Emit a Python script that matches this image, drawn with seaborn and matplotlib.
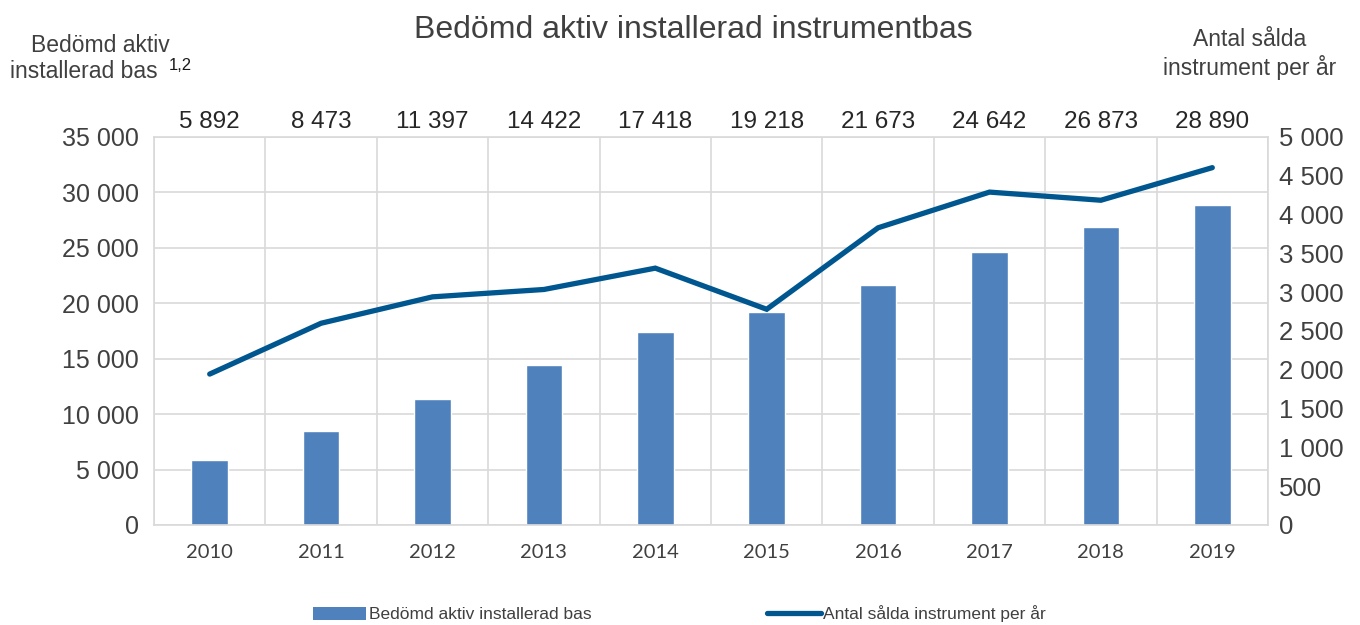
import numpy as np
import pandas as pd
import matplotlib
matplotlib.use("Agg")
import matplotlib.pyplot as plt
import seaborn as sns
from matplotlib.ticker import FuncFormatter, MultipleLocator, FixedLocator
from matplotlib.patches import Patch
from matplotlib.lines import Line2D

years = ["2010", "2011", "2012", "2013", "2014", "2015", "2016", "2017", "2018", "2019"]
installed_base = [5892, 8473, 11397, 14422, 17418, 19218, 21673, 24642, 26873, 28890]
sold_per_year = [1945, 2600, 2940, 3035, 3310, 2780, 3830, 4290, 4185, 4605]
top_labels = ["5 892", "8 473", "11 397", "14 422", "17 418", "19 218", "21 673", "24 642", "26 873", "28 890"]

BAR = "#4F81BD"
LINE = "#00578F"
GRID = "#D9D9D9"
TXT = "#404040"

sns.set_theme(style="white")
plt.rcParams['font.family'] = ['Liberation Sans', 'DejaVu Sans']

fig = plt.figure(figsize=(13.6, 6.25), dpi=100)
ax = fig.add_axes([154/1360, 100/625, (1268-154)/1360, (525-137)/625])

df = pd.DataFrame({"year": years, "base": installed_base, "sold": sold_per_year})
sns.barplot(data=df, x="year", y="base", color=BAR, width=0.33, ax=ax, saturation=1)

ax.set_xlim(-0.5, len(years) - 0.5)
ax.set_ylim(0, 35000)
ax.yaxis.set_major_locator(MultipleLocator(5000))
fmt = FuncFormatter(lambda v, p: f"{int(v):,}".replace(",", " "))
ax.yaxis.set_major_formatter(fmt)
ax.set_xlabel("")
ax.set_ylabel("")
ax.xaxis.set_minor_locator(FixedLocator(np.arange(-0.5, len(years), 1.0)))
ax.grid(True, which="minor", axis="x", color=GRID, lw=1.2)
ax.grid(True, which="major", axis="y", color=GRID, lw=1.2)
ax.set_axisbelow(True)
ax.tick_params(axis="both", which="both", length=0)
ax.tick_params(axis="y", labelsize=18, labelcolor=TXT, pad=11)
for lab in ax.get_xticklabels():
    lab.set_fontfamily(['Lato', 'DejaVu Sans'])
    lab.set_fontsize(14.5)
    lab.set_color(TXT)
ax.tick_params(axis="x", pad=14)
for s in ax.spines.values():
    s.set_color(GRID)
    s.set_linewidth(1.2)

ax2 = ax.twinx()
sns.lineplot(x=np.arange(len(years)), y=df["sold"], color=LINE, lw=3.8, ax=ax2,
             solid_capstyle="round", solid_joinstyle="miter")
ax2.set_ylim(0, 5000)
ax2.yaxis.set_major_locator(MultipleLocator(500))
ax2.yaxis.set_major_formatter(fmt)
ax2.set_ylabel("")
ax2.tick_params(axis="y", length=0, labelsize=18.5, labelcolor=TXT, pad=8)
for s in ax2.spines.values():
    s.set_visible(False)

for i, t in enumerate(top_labels):
    ax.text(i, 1.01, t, transform=ax.get_xaxis_transform(), ha="center", va="bottom",
            fontsize=17.5, color="#262626")

fig.text(693/1360, 1 - 30/625, "Bedömd aktiv installerad instrumentbas", ha="center", va="center",
         fontsize=23, color=TXT)
fig.text(100/1360, 1 - 45/625, "Bedömd aktiv", ha="center", va="center",
         fontsize=16.5, color=TXT)
fig.text(10/1360, 1 - 72/625, "installerad bas", ha="left", va="center",
         fontsize=16.5, color=TXT)
fig.text(169/1360, 1 - 66/625, "1,2", ha="left", va="center",
         fontsize=12, color="#1a1a1a")
fig.text(1250/1360, 1 - 54/625, "Antal sålda\ninstrument per år", ha="center", va="center",
         fontsize=16.5, color=TXT, linespacing=1.2)

handles = [Patch(facecolor=BAR, edgecolor="none"),
           Line2D([0], [0], color=LINE, lw=3.8, solid_capstyle="round")]
fig.legend(handles, ["Bedömd aktiv installerad bas", "Antal sålda instrument per år"],
           loc="center", bbox_to_anchor=(0.4995, 1 - 614/625), ncol=2, frameon=False,
           fontsize=12.5, handlelength=3.1, handleheight=0.8, handletextpad=0.15,
           columnspacing=10.1, labelcolor=TXT)

fig.savefig("out.png", dpi=100)
